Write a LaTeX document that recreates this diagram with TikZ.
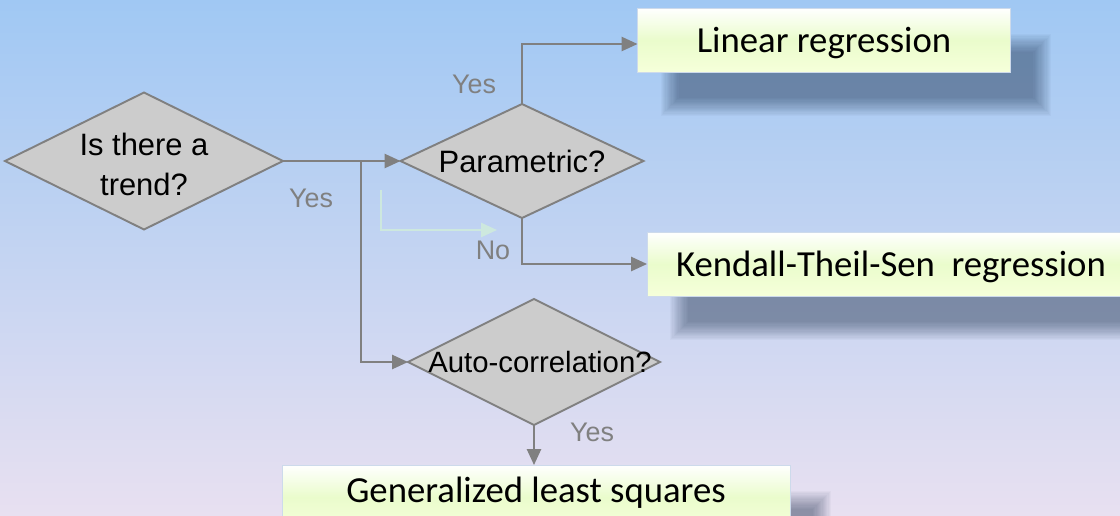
\documentclass[tikz,border=0pt]{standalone}
\usepackage{fontspec}
\setmainfont{Liberation Sans}
\newfontfamily\boxfont{Carlito}
\usetikzlibrary{arrows.meta,shapes.geometric,backgrounds}

\definecolor{bgtop}{RGB}{160,200,243}
\definecolor{bgmid}{RGB}{182,208,236}
\definecolor{bgbot}{RGB}{232,224,241}
\definecolor{linegray}{RGB}{128,128,128}
\definecolor{diafill}{RGB}{204,204,204}
\definecolor{boxmid}{RGB}{234,252,204}
\definecolor{boxbot}{RGB}{246,255,218}
\definecolor{boxedge}{RGB}{205,218,235}
\definecolor{ghostgreen}{RGB}{205,232,222}
\definecolor{shadowblue}{RGB}{20,40,70}

\begin{document}
\begin{tikzpicture}[x=0.02cm,y=-0.02cm,
  decision/.style={draw=linegray,line width=1.1pt,fill=diafill,diamond,inner sep=0pt,outer sep=0pt},
  dtext/.style={font=\fontsize{17.6}{23}\selectfont,align=center,text=black},
  result/.style={draw=boxedge,line width=0.4pt,rectangle,top color=white,bottom color=boxbot,middle color=boxmid,
    minimum height=1.28cm,inner sep=0pt,outer sep=0pt,text depth=0pt,font=\boxfont\fontsize{20.9}{24}\selectfont},
  flow/.style={draw=linegray,line width=1.1pt,-{Triangle[length=9pt,width=8pt]}},
  ghost/.style={draw=ghostgreen,line width=1.1pt,-{Triangle[length=9pt,width=8pt]}},
  answer/.style={text=linegray,font=\fontsize{15.3}{18}\selectfont,inner sep=0pt}]

  \useasboundingbox (0,0) rectangle (1120,515);
  \clip (0,0) rectangle (1120,515);

  % decisions
  \node[decision,minimum width=5.56cm,minimum height=2.74cm,
        label={[dtext,yshift=-0.07cm]center:Is there a\\trend?}] (trend) at (144,161) {};
  \node[decision,minimum width=4.86cm,minimum height=2.28cm,
        label={[dtext]center:Parametric?}] (param) at (522,161) {};
  \node[decision,minimum width=5.04cm,minimum height=2.52cm,
        label={[dtext,font=\fontsize{16.7}{20}\selectfont,xshift=0.12cm]center:Auto-correlation?}] (auto) at (534,362) {};

  % results
  \node[result,minimum width=7.46cm] (linear) at (824,40) {Linear regression};
  \node[result,minimum width=9.76cm] (kendall) at (891,264) {Kendall-Theil-Sen\ \ regression};
  \node[result,minimum width=10.16cm,text depth=0.28cm] (gls) at (536,497) {Generalized least squares};

  \coordinate (split) at (361,161);
  \coordinate (ghostA) at (381,190);
  \coordinate (ghostB) at (497,230);

  \draw[ghost] (ghostA) |- (ghostB);

  \draw[flow] (trend.east) -- (param.west);
  \draw[flow] (split) |- (auto.west);
  \draw[flow] (param.north) |- ([yshift=-0.08cm]linear.west);
  \draw[flow] (param.south) |- (kendall.west);
  \draw[flow] (auto.south) -- (auto.south |- gls.north);

  \node[answer] (yes1) at (311,198) {Yes};
  \node[answer] (yes2) at (474,84) {Yes};
  \node[answer] (no1) at (493,250) {No};
  \node[answer] (yes3) at (592,432) {Yes};

  % backdrop and soft shadows
  \begin{scope}[on background layer]
    \shade[top color=bgtop,middle color=bgmid,bottom color=bgbot] (0,0) rectangle (1120,515);
    \foreach \n in {linear,kendall,gls}
      \foreach \k in {0,...,15}
        \fill[shadowblue,opacity=0.032]
          ([xshift=0.46cm+\k*0.024cm,yshift=-0.52cm-\k*0.024cm]\n.north west) rectangle
          ([xshift=0.82cm-\k*0.024cm,yshift=-0.88cm+\k*0.024cm]\n.south east);
  \end{scope}

\end{tikzpicture}
\end{document}
